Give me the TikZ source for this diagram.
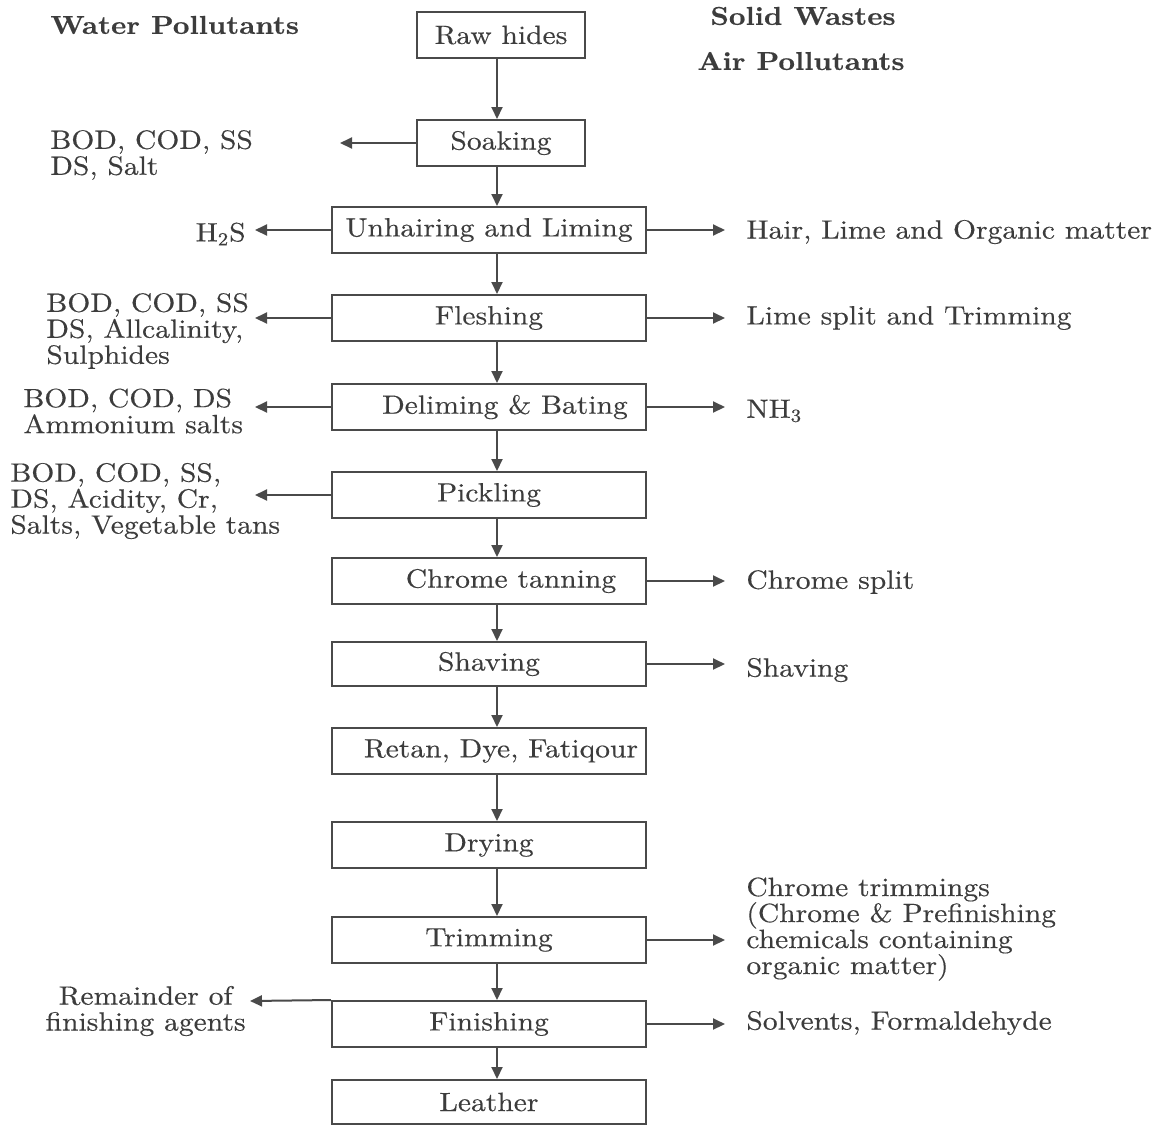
\documentclass[tikz,border=0pt]{standalone}
\usepackage{fontspec}
\setmainfont{lmroman10-regular.otf}[BoldFont=lmroman10-bold.otf,FakeStretch=1.12,FakeBold=0.35]
\usetikzlibrary{arrows.meta}
\definecolor{ink}{HTML}{3c3c3c}
\definecolor{edge}{HTML}{4a4a4a}
\newcommand{\txtfont}{\fontsize{13.2}{13}\selectfont}
\begin{document}
\begin{tikzpicture}[x=0.5pt,y=-0.5pt,
  every node/.style={text=ink},
  procbox/.style={draw=edge,line width=1pt,minimum width=157pt,minimum height=23pt,inner sep=0pt,font=\txtfont},
  smallbox/.style={procbox,minimum width=84pt},
  lbl/.style={inner sep=0pt,align=left,font=\txtfont},
  hdr/.style={inner sep=0pt,font=\fontsize{12.9}{15}\selectfont\bfseries},
  arr/.style={draw=edge,line width=1pt,-{Triangle[length=6pt,width=5.5pt]}}]
\useasboundingbox (0,0) rectangle (1168,1126);
% headers
\node[hdr,anchor=west] (hw) at (50,25) {Water Pollutants};
\node[hdr] (hs) at (803,16) {Solid Wastes};
\node[hdr] (ha) at (801,61) {Air Pollutants};
% process boxes
\node[smallbox] (raw) at (501,35) {Raw hides};
\node[smallbox] (soak) at (501,143) {Soaking};
\node[procbox] (unhair) at (489,230) {Unhairing and Liming};
\node[procbox] (flesh) at (489,318) {Fleshing};
\node[procbox] (delime) at (489,407) {\hspace*{16pt}Deliming \& Bating};
\node[procbox] (pickle) at (489,495) {Pickling};
\node[procbox] (chrome) at (489,581) {\hspace*{22pt}Chrome tanning};
\node[procbox,minimum height=22pt] (shave) at (489,664) {Shaving};
\node[procbox] (retan) at (489,751) {\hspace*{12pt}Retan, Dye, Fatiqour};
\node[procbox] (dry) at (489,845) {\raisebox{-3pt}{Drying}};
\node[procbox] (trim) at (489,940) {Trimming};
\node[procbox] (finish) at (489,1024) {Finishing};
\node[procbox,minimum height=22pt] (leather) at (489,1102) {Leather};
% main flow
\foreach \a/\b in {raw/soak,soak/unhair}
  \draw[arr] ([xshift=-2pt]\a.south) -- ([xshift=-2pt]\a.south |- \b.north);
\foreach \a/\b in {unhair/flesh,flesh/delime,delime/pickle,pickle/chrome,chrome/shave,shave/retan,retan/dry,dry/trim,trim/finish,finish/leather}
  \draw[arr] ([xshift=4pt]\a.south) -- ([xshift=4pt]\a.south |- \b.north);
% left side labels
\node[lbl,anchor=west] (wsoak) at (50,155) {BOD, COD, SS\\DS, Salt};
\node[lbl,anchor=east] (aunhair) at (246,234) {H\textsubscript{2}S};
\node[lbl,anchor=west] (wflesh) at (46,331) {BOD, COD, SS\\DS, Allcalinity,\\Sulphides};
\node[lbl,anchor=west] (wdelime) at (23,411) {BOD, COD, DS\\Ammonium salts};
\node[lbl,anchor=west] (wpickle) at (10,501) {BOD, COD, SS,\\DS, Acidity, Cr,\\Salts, Vegetable tans};
\node[lbl,anchor=east,align=center] (wfinish) at (246,1011) {Remainder of\\finishing agents};
% right side labels
\node[lbl,anchor=west] (sunhair) at (746,232) {Hair, Lime and Organic matter};
\node[lbl,anchor=west] (sflesh) at (746,318) {Lime split and Trimming};
\node[lbl,anchor=west] (adelime) at (746,411) {NH\textsubscript{3}};
\node[lbl,anchor=west] (schrome) at (746,582) {Chrome split};
\node[lbl,anchor=west] (sshave) at (746,670) {Shaving};
\node[lbl,anchor=west] (strim) at (746,929) {Chrome trimmings\\(Chrome \& Prefinishing\\chemicals containing\\organic matter)};
\node[lbl,anchor=west] (afinish) at (746,1023) {Solvents, Formaldehyde};
% arrow tips
\coordinate (tsoak) at (340,143);
\coordinate (tunhairL) at (255,230);
\coordinate (tfleshL) at (255,318);
\coordinate (tdelimeL) at (255,407);
\coordinate (tpickleL) at (255,495);
\coordinate (tfinishL) at (250,1001);
\coordinate (tunhairR) at (725,230);
\coordinate (tfleshR) at (725,318);
\coordinate (tdelimeR) at (725,407);
\coordinate (tchromeR) at (725,581);
\coordinate (tshaveR) at (725,664);
\coordinate (ttrimR) at (725,940);
\coordinate (tfinishR) at (725,1024);
% side arrows
\draw[arr] (soak.west) -- (tsoak);
\draw[arr] (unhair.west) -- (tunhairL);
\draw[arr] (flesh.west) -- (tfleshL);
\draw[arr] (delime.west) -- (tdelimeL);
\draw[arr] (pickle.west) -- (tpickleL);
\draw[arr] (finish.north west) -- (tfinishL);
\draw[arr] (unhair.east) -- (tunhairR);
\draw[arr] (flesh.east) -- (tfleshR);
\draw[arr] (delime.east) -- (tdelimeR);
\draw[arr] (chrome.east) -- (tchromeR);
\draw[arr] (shave.east) -- (tshaveR);
\draw[arr] (trim.east) -- (ttrimR);
\draw[arr] (finish.east) -- (tfinishR);
\end{tikzpicture}
\end{document}
